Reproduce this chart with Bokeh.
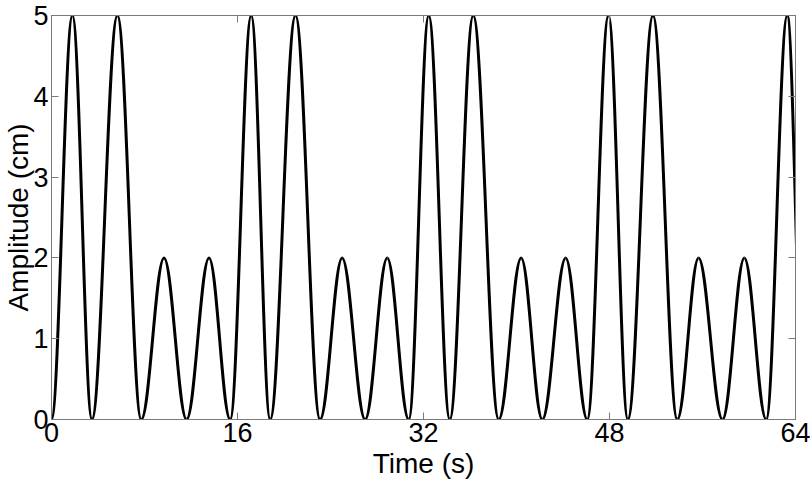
from bokeh.plotting import figure
from bokeh.models import Range1d, LinearAxis, FixedTicker, ColumnDataSource
from bokeh.embed import file_html
from bokeh.resources import INLINE

# Data: zero crossings, peak times and peak amplitudes of each hump
zero_times = [0.0, 3.48, 7.72, 11.62, 15.37, 18.81, 23.10, 26.98, 30.73, 34.26,
              38.47, 42.22, 46.09, 49.58, 53.83, 57.72, 61.48, 64.75]
peak_times = [1.80, 5.67, 9.68, 13.55, 17.18, 20.99, 25.00, 28.88, 32.45, 36.28,
              40.40, 44.23, 47.91, 51.74, 55.66, 59.60, 63.29]
peak_amps = [5, 5, 2, 2, 5, 5, 2, 2, 5, 5, 2, 2, 5, 5, 2, 2, 5]

x_ticks = [0, 16, 32, 48, 64]
y_ticks = [0, 1, 2, 3, 4, 5]

FONT = "Liberation Sans"
FRAME = "#7a7a7a"

# Each hump is drawn as two cubic Bezier halves (rise and fall) through the read points
K = 0.3642
x0, y0, x1, y1, cx0, cy0, cx1, cy1 = ([] for _ in range(8))
for i, (tp, a) in enumerate(zip(peak_times, peak_amps)):
    zl, zr = zero_times[i], zero_times[i + 1]
    # rising half
    x0.append(zl); y0.append(0); x1.append(tp); y1.append(a)
    cx0.append(zl + K * (tp - zl)); cy0.append(0)
    cx1.append(tp - K * (tp - zl)); cy1.append(a)
    # falling half
    x0.append(tp); y0.append(a); x1.append(zr); y1.append(0)
    cx0.append(tp + K * (zr - tp)); cy0.append(a)
    cx1.append(zr - K * (zr - tp)); cy1.append(0)

src = ColumnDataSource(dict(x0=x0, y0=y0, x1=x1, y1=y1, cx0=cx0, cy0=cy0, cx1=cx1, cy1=cy1))

p = figure(width=810, height=481, x_range=Range1d(0, 64), y_range=Range1d(0, 5),
           output_backend="svg", toolbar_location=None,
           min_border_left=10, min_border_right=15, min_border_top=15, min_border_bottom=10)
p.background_fill_color = "white"
p.border_fill_color = "white"
p.outline_line_color = FRAME
p.outline_line_width = 1
p.xgrid.visible = False
p.ygrid.visible = False

p.bezier(x0="x0", y0="y0", x1="x1", y1="y1", cx0="cx0", cy0="cy0", cx1="cx1", cy1="cy1",
         source=src, line_color="black", line_width=3)

def style_axis(ax, ticks, show_labels):
    ax.ticker = FixedTicker(ticks=ticks)
    ax.axis_line_color = FRAME
    ax.major_tick_line_color = FRAME
    ax.major_tick_in = 7
    ax.major_tick_out = 0
    ax.minor_tick_line_color = None
    ax.major_label_text_font = FONT
    ax.major_label_text_font_style = "normal"
    ax.axis_label_text_font = FONT
    ax.axis_label_text_font_style = "normal"
    ax.axis_label_text_font_size = "28px"
    ax.axis_label_text_color = "black"
    if show_labels:
        ax.major_label_text_font_size = "27px"
        ax.major_label_text_color = "black"
    else:
        ax.major_label_text_font_size = "1px"
        ax.major_label_text_color = None
        ax.major_label_standoff = 0

xa = p.xaxis[0]
style_axis(xa, x_ticks, True)
xa.major_label_standoff = 3
xa.axis_label = "Time (s)"
xa.axis_label_standoff = 3

ya = p.yaxis[0]
style_axis(ya, y_ticks, True)
ya.major_label_standoff = 3
ya.axis_label = "Amplitude (cm)"
ya.axis_label_standoff = -4

top_axis = LinearAxis()
style_axis(top_axis, x_ticks, False)
p.add_layout(top_axis, "above")
right_axis = LinearAxis()
style_axis(right_axis, y_ticks, False)
p.add_layout(right_axis, "right")

open("out.html", "w").write(file_html(p, INLINE))
